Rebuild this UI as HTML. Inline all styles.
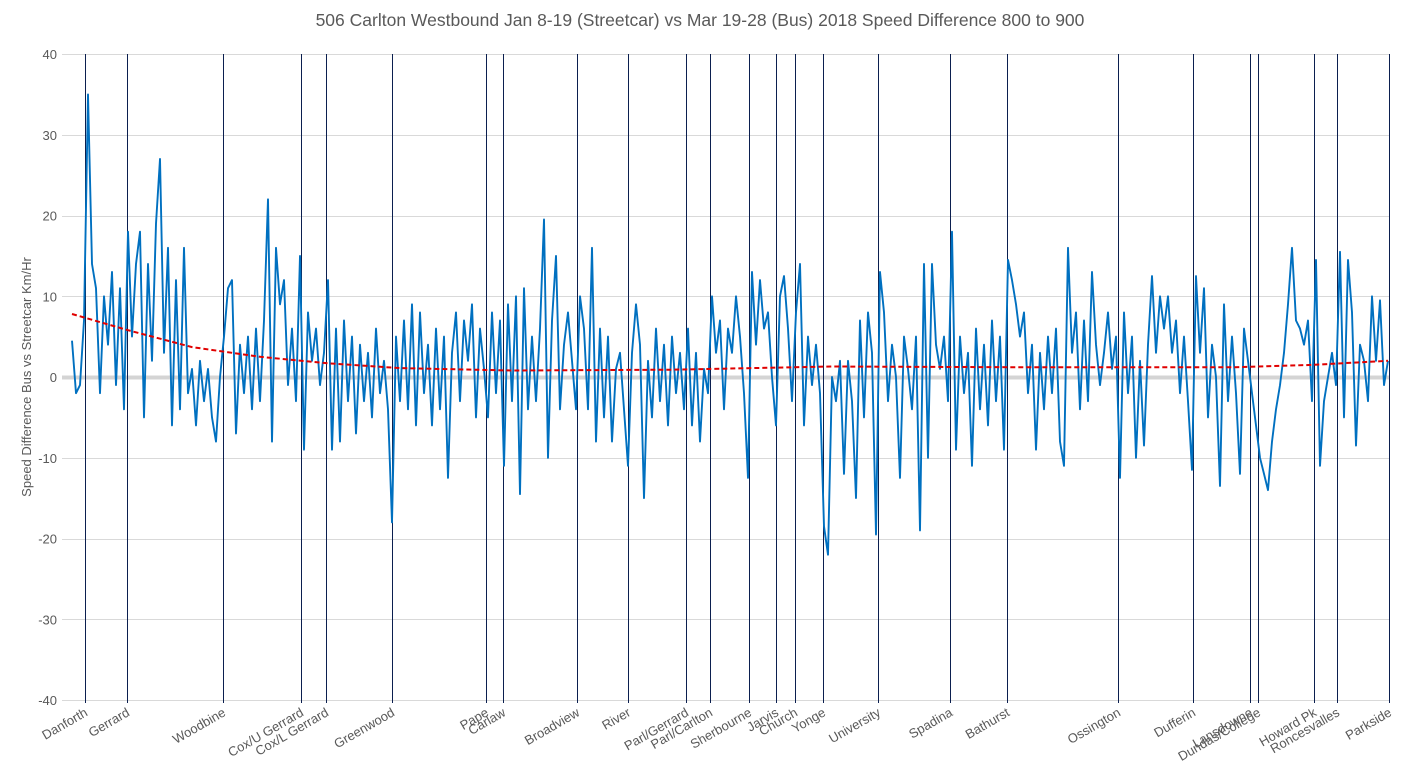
<!DOCTYPE html>
<html><head><meta charset="utf-8"><style>
body{margin:0;background:#fff;}
svg{display:block;font-family:"Liberation Sans",sans-serif;}
</style></head><body>
<svg id="chart" width="1405" height="772">
<text x="700" y="26" text-anchor="middle" font-size="17.5" fill="#595959">506 Carlton Westbound Jan 8-19 (Streetcar) vs Mar 19-28 (Bus) 2018 Speed Difference 800 to 900</text>
<text transform="translate(31,377) rotate(-90)" text-anchor="middle" font-size="13" fill="#595959">Speed Difference Bus vs Streetcar Km/Hr</text>
<g id="grid"></g><g id="stops"></g><g id="series"></g><g id="labels"></g>
</svg>
<script>
const yTicks=[40,30,20,10,0,-10,-20,-30,-40];
const stopNames=["Danforth","Gerrard","Woodbine","Cox/U Gerrard","Cox/L Gerrard","Greenwood","Pape","Carlaw","Broadview","River","Parl/Gerrard","Parl/Carlton","Sherbourne","Jarvis","Church","Yonge","University","Spadina","Bathurst","Ossington","Dufferin","Lansdowne","Dundas/College","Howard Pk","Roncesvalles","Parkside"];
const stopPos=[3.25,13.75,37.75,57.25,63.5,80,103.5,107.75,126.25,139,153.5,159.5,169.25,176,180.75,187.75,201.5,219.5,233.75,261.5,280.25,294.5,296.5,310.5,316.25,329.25];
const speedDiff=[4.5,-2,-1,7,35,14,11,-2,10,4,
13,-1,11,-4,18,5,14,18,-5,14,
2,19,27,3,16,-6,12,-4,16,-2,
1,-6,2,-3,1,-5,-8,0,5,11,
12,-7,4,-2,5,-4,6,-3,7,22,
-8,16,9,12,-1,6,-3,15,-9,8,
2,6,-1,3,12,-9,6,-8,7,-3,
5,-7,4,-3,3,-5,6,-2,2,-4,
-18,5,-3,7,-4,9,-6,8,-2,4,
-6,6,-4,5,-12.5,3,8,-3,7,2,
9,-5,6,1,-5,8,-2,7,-11,9,
-3,10,-14.5,11,-4,5,-3,6,19.5,-10,
7,15,-4,4,8,2,-4,10,6,-4,
16,-8,6,-5,5,-8,1,3,-4,-11,
3,9,4,-15,2,-5,6,-3,4,-6,
5,-2,3,-4,6,-6,3,-8,1,-2,
10,3,7,-4,6,3,10,5,-2,-12.5,
13,4,12,6,8,0,-6,10,12.5,6,
-3,8,14,-6,5,-1,4,-2,-18.5,-22,
0,-3,2,-12,2,-3,-15,7,-5,8,
3,-19.5,13,8,-3,4,0,-12.5,5,1,
-4,5,-19,14,-10,14,4,1,5,-3,
18,-9,5,-2,3,-11,6,-4,4,-6,
7,-3,5,-9,14.5,12,9,5,8,-2,
4,-9,3,-4,5,-2,6,-8,-11,16,
3,8,-4,7,-3,13,4,-1,3,8,
1,5,-12.5,8,-2,5,-10,2,-8.5,4,
12.5,3,10,6,10,3,7,-2,5,-3,
-11.5,12.5,3,11,-5,4,0,-13.5,9,-3,
5,-2,-12,6,2,-2,-6,-10,-12,-14,
-8,-4,-1,3,9,16,7,6,4,7,
-3,14.5,-11,-3,0,3,-1,15.5,-5,14.5,
8,-8.5,4,2,-3,10,2,9.5,-1,2];
const trendIdx=[0,14,30,47,64,82,110,150,190,240,290,310,329];
const trendVal=[7.8,5.8,3.7,2.5,1.7,1.1,0.8,0.9,1.3,1.2,1.2,1.5,2.0];

const NS="http://www.w3.org/2000/svg";
const X0=72,X1=1388,Y0=54,Y1=700,xMax=329,yMin=-40,yMax=40;
const xs=i=>X0+(X1-X0)*i/xMax;
const ys=v=>Y0+(yMax-v)/(yMax-yMin)*(Y1-Y0);
function mk(tag,attrs,parent){const e=document.createElementNS(NS,tag);for(const k in attrs)e.setAttribute(k,attrs[k]);parent.appendChild(e);return e;}
const grid=document.getElementById('grid'),stops=document.getElementById('stops'),series=document.getElementById('series'),labels=document.getElementById('labels');
yTicks.forEach(t=>{
  const y=Math.round(ys(t))+0.5;
  const l=mk('line',{x1:62,x2:1390,y1:y,y2:y,stroke:t===0?'#d4d4d4':'#d9d9d9','stroke-width':t===0?4:1},grid);
  
  
  const tx=mk('text',{x:57,y:ys(t)+5,'text-anchor':'end','font-size':13,fill:'#595959'},grid);
  tx.textContent=t;
  
  
});
stopPos.forEach((p,k)=>{
  const x=Math.round(xs(p))+0.5;
  const l=mk('line',{x1:x,x2:x,y1:Y0,y2:Y1+3,stroke:'#0b1f4f','stroke-width':1},stops);
  
  
  const t=mk('text',{'text-anchor':'end','font-size':13,fill:'#595959',transform:'translate('+(x+3)+',715) rotate(-30)'},labels);
  t.textContent=stopNames[k];
  
  
});
const pts=speedDiff.map((v,i)=>xs(i).toFixed(1)+','+ys(v).toFixed(1)).join(' ');
const pl=mk('polyline',{points:pts,fill:'none',stroke:'#0070c0','stroke-width':1.9,'stroke-linejoin':'round'},series);


const tp=trendIdx.map((p,i)=>xs(p).toFixed(1)+','+ys(trendVal[i]).toFixed(1)).join(' ');
const tl=mk('polyline',{points:tp,fill:'none',stroke:'#e00000','stroke-width':2,'stroke-dasharray':'5,3'},series);


</script>
</body></html>
